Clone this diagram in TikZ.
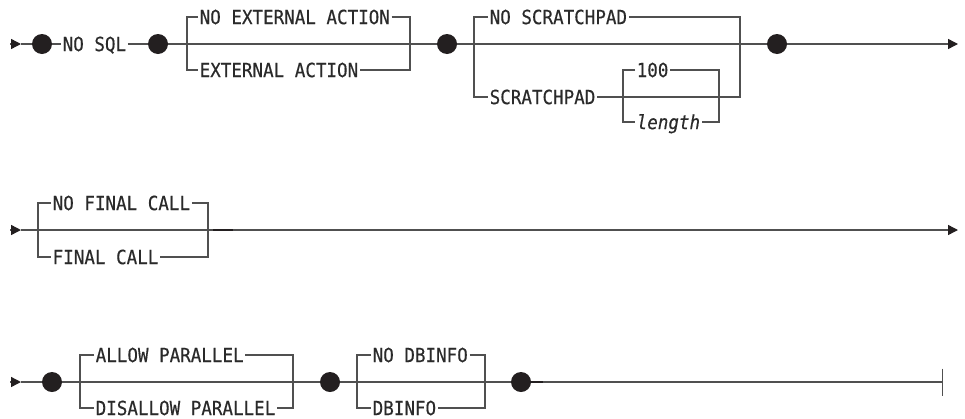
\documentclass[tikz,border=0pt]{standalone}
\usepackage{fontspec}
\newfontfamily\railfont[FakeStretch=0.9, FakeBold=0.4]{DejaVu Sans Mono}
\usetikzlibrary{arrows.meta}
\definecolor{railgray}{HTML}{505050}
\definecolor{dotblack}{HTML}{231F20}
\definecolor{textgray}{HTML}{2A2A2A}

\begin{document}
\begin{tikzpicture}[x=1pt, y=-1pt,
        kw/.style={anchor=west, inner xsep=1.5pt, inner ysep=0pt, text height=14.2pt, text depth=0pt,
            font=\railfont\fontsize{19.5}{20}\selectfont, text=textgray},
        var/.style={kw, font=\railfont\itshape\fontsize{19.5}{20}\selectfont},
        dot/.style={circle, fill=dotblack, minimum size=20pt, inner sep=0pt},
        rail/.style={draw=railgray, line width=1.4pt},
        stub/.style={draw=dotblack, line width=2pt},
        railin/.style={-{Triangle[length=10pt, width=10pt, color=dotblack]}},
        railout/.style={-{Triangle[length=10pt, width=10pt, color=dotblack]}},
        railstop/.style={-{Bar[width=27pt]}},
    ]
    \useasboundingbox (0,0) rectangle (965,418);

    % Row 1: NO SQL, external action, scratchpad
    \coordinate (s1) at (10,44);
    \coordinate (a1) at (21,44);
    \node[dot] (d1) at (42,44) {};
    \node[kw] (nosql) at (61,44) {NO SQL};
    \node[dot] (d2) at (158,44) {};
    \coordinate (b1l) at (187,44);
    \node[kw] (noext) at (198,17) {NO EXTERNAL ACTION};
    \node[kw] (ext) at (198,70) {EXTERNAL ACTION};
    \coordinate (b1r) at (410,44);
    \node[dot] (d3) at (447,44) {};
    \coordinate (b2l) at (474,44);
    \node[kw] (noscr) at (488,17) {NO SCRATCHPAD};
    \node[kw] (scr) at (488,97) {SCRATCHPAD};
    \coordinate (b2r) at (740,44);
    \coordinate (b3l) at (623,97);
    \coordinate (b3r) at (719,97);
    \node[kw] (hund) at (635,70) {100};
    \node[var] (len) at (635,122) {length};
    \node[dot] (d4) at (777,44) {};
    \coordinate (e1) at (958,44);

    \draw[rail, railin] (s1) -- (a1);
    \draw[rail] (a1) -- (d1) (d1) -- (nosql) (nosql) -- (d2) (d2) -- (d3) (d3) -- (d4);
    \draw[rail, railout] (d4) -- (e1);
    \draw[rail] (noext.west) -| (b1l) |- (ext.west) (noext.east) -| (b1r) |- (ext.east);
    \draw[rail] (noscr.west) -| (b2l) |- (scr.west) (noscr.east) -| (b2r) |- (b3r);
    \draw[rail] (scr.east) -- (b3l) -- (b3r);
    \draw[rail] (hund.west) -| (b3l) |- (len.west) (hund.east) -| (b3r) |- (len.east);

    % Row 2: final call
    \coordinate (s2) at (10,230);
    \coordinate (a2) at (21,230);
    \coordinate (b4l) at (38,230);
    \node[kw] (nofin) at (51,203) {NO FINAL CALL};
    \node[kw] (fin) at (51,257) {FINAL CALL};
    \coordinate (b4r) at (208,230);
    \coordinate (st2a) at (213,230);
    \coordinate (st2b) at (233,230);
    \coordinate (e2) at (958,230);

    \draw[rail, railin] (s2) -- (a2);
    \draw[rail, railout] (a2) -- (e2);
    \draw[rail] (nofin.west) -| (b4l) |- (fin.west) (nofin.east) -| (b4r) |- (fin.east);
    \draw[stub] (st2a) -- (st2b);

    % Row 3: parallel, dbinfo
    \coordinate (s3) at (10,382);
    \coordinate (a3) at (21,382);
    \node[dot] (d5) at (52,382) {};
    \coordinate (b5l) at (80,382);
    \node[kw] (allow) at (94,355) {ALLOW PARALLEL};
    \node[kw] (disallow) at (94,408) {DISALLOW PARALLEL};
    \coordinate (b5r) at (293,382);
    \node[dot] (d6) at (330,382) {};
    \coordinate (b6l) at (357,382);
    \node[kw] (nodb) at (371,355) {NO DBINFO};
    \node[kw] (db) at (371,408) {DBINFO};
    \coordinate (b6r) at (485,382);
    \node[dot] (d7) at (521,382) {};
    \coordinate (st3b) at (543,382);
    \coordinate (e3) at (943,382);

    \draw[rail, railin] (s3) -- (a3);
    \draw[rail] (a3) -- (d5) (d5) -- (d6) (d6) -- (d7);
    \draw[rail, railstop] (d7) -- (e3);
    \draw[rail] (allow.west) -| (b5l) |- (disallow.west) (allow.east) -| (b5r) |- (disallow.east);
    \draw[rail] (nodb.west) -| (b6l) |- (db.west) (nodb.east) -| (b6r) |- (db.east);
    \draw[stub] (d7.east) -- (st3b);
\end{tikzpicture}
\end{document}
